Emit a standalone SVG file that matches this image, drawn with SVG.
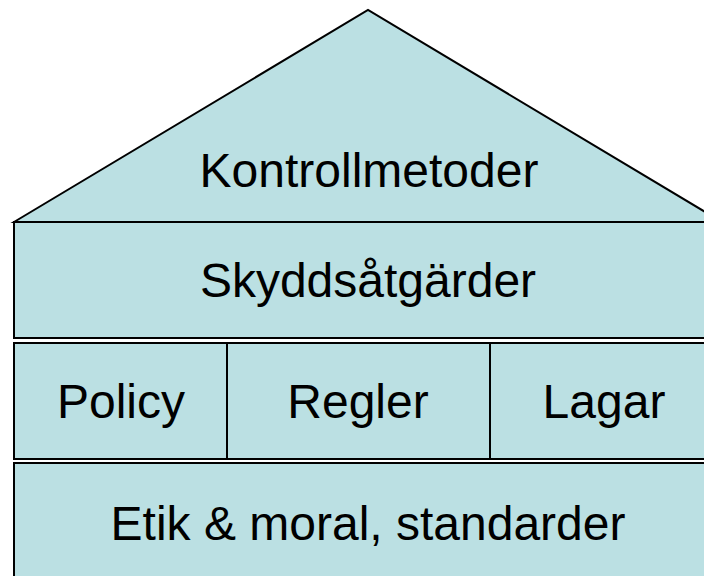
<svg xmlns="http://www.w3.org/2000/svg" width="704" height="576" viewBox="0 0 704 576">
<style>
.b{fill:#BBE0E3;stroke:#000;stroke-width:2}
.t{font-family:"Liberation Sans",Arial,sans-serif;font-size:48px;fill:#000;text-anchor:middle}
</style>
<rect width="704" height="576" fill="#fff"/>
<g id="roof">
<polygon class="b" points="14,222 368,10 722,222"/>
<text class="t" x="369" y="187">Kontrollmetoder</text>
</g>
<g id="skydd">
<rect class="b" x="14" y="222" width="708" height="116"/>
<text class="t" x="368" y="297">Skyddsåtgärder</text>
</g>
<g id="policy">
<rect class="b" x="14" y="343" width="213" height="116"/>
<text class="t" x="121" y="418">Policy</text>
</g>
<g id="regler">
<rect class="b" x="227" y="343" width="263" height="116"/>
<text class="t" x="358" y="418">Regler</text>
</g>
<g id="lagar">
<rect class="b" x="490" y="343" width="232" height="116"/>
<text class="t" x="604" y="418">Lagar</text>
</g>
<g id="etik">
<rect class="b" x="14" y="463" width="708" height="130"/>
<text class="t" x="368" y="540">Etik &amp; moral, standarder</text>
</g>
<g id="connectors"/>
</svg>
